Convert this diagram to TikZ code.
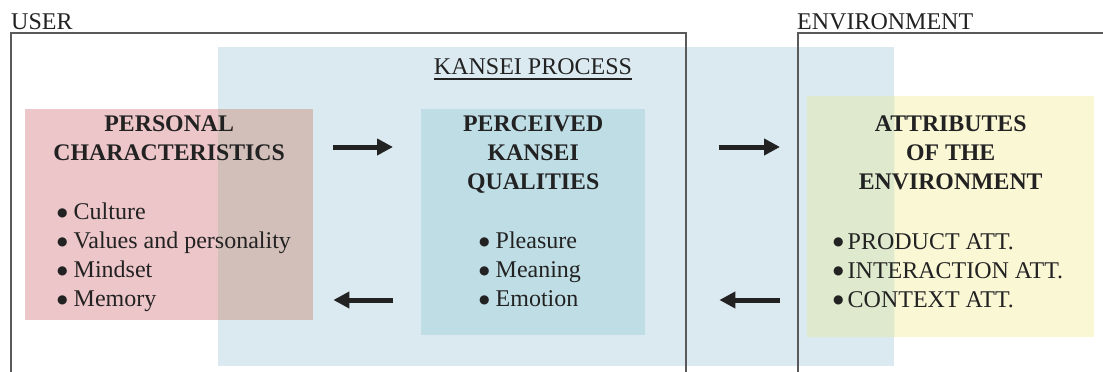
\documentclass[tikz,border=0pt]{standalone}
\usepackage{fontspec}
\setmainfont{Liberation Serif}
\newfontfamily\dotfont{DejaVu Sans}
\usetikzlibrary{arrows.meta,positioning}
\definecolor{kanseibg}{HTML}{DBEAF0}
\definecolor{kanseibox}{HTML}{BFDDE5}
\definecolor{userpink}{HTML}{EDC6C9}
\definecolor{usermix}{HTML}{D3BFBA}
\definecolor{envyellow}{HTML}{FAF7D5}
\definecolor{envmix}{HTML}{DFE9CD}
\definecolor{framegray}{HTML}{5A5A5A}
\definecolor{inkgray}{HTML}{222222}
\newcommand{\bul}{\raisebox{3.6pt}{\dotfont\fontsize{12}{29}\selectfont ●}}
\begin{document}
\begin{tikzpicture}[x=1pt,y=-1pt,
		frame/.style={draw=framegray, line width=1.3pt},
		area/.style={rectangle, inner sep=0pt, anchor=north west},
		heading/.style={font=\fontsize{24}{29}\selectfont, text=inkgray, inner sep=0pt},
		title/.style={font=\fontsize{23.8}{29}\selectfont\bfseries, text=inkgray, align=center, inner sep=0pt, anchor=north},
		items/.style={font=\fontsize{24}{29}\selectfont, text=inkgray, align=left, inner sep=0pt, anchor=north west},
		bigarrow/.style={-{Triangle[length=16pt,width=16pt]}, line width=5pt, inkgray}]
	\useasboundingbox (0,0) rectangle (1103,372);
	\node[area, fill=kanseibg, minimum width=676pt, minimum height=319pt] (kansei) at (218,47) {};
	\node[area, fill=userpink, minimum width=288pt, minimum height=211pt] (pers) at (25,109) {};
	\node[area, fill=envyellow, minimum width=287pt, minimum height=241pt] (attr) at (807,96) {};
	% where the boxes lie over the kansei area
	\begin{scope}
		\clip (kansei.north west) rectangle (kansei.south east);
		\fill[usermix] (pers.north west) rectangle (pers.south east);
		\fill[envmix] (attr.north west) rectangle (attr.south east);
	\end{scope}
	\node[area, fill=kanseibox, minimum width=224pt, minimum height=226pt] (perc) at (421,109) {};
	% frames for user and environment
	\draw[frame] (11,372) |- (686,33) -- (686,372);
	\draw[frame] (798,372) |- (1103,33);
	\node[heading, anchor=base west] (user) at (11,29) {USER};
	\node[heading, anchor=base west] (env) at (797,29) {ENVIRONMENT};
	\node[heading, anchor=base] (process) at (533,74) {KANSEI PROCESS};
	\draw[inkgray, line width=1.2pt] ([yshift=-5pt]process.base west) -- ([yshift=-5pt]process.base east);
	% titles and lists
	\node[title] (perstitle) at ([yshift=-7pt]pers.north) {PERSONAL\\CHARACTERISTICS};
	\node[title] (perctitle) at ([yshift=-7pt]perc.north) {PERCEIVED\\KANSEI\\QUALITIES};
	\node[title] (attrtitle) at ([yshift=-20pt]attr.north) {ATTRIBUTES\\OF THE\\ENVIRONMENT};
	\node[items] (perslist) at (57,203) {\bul\ Culture\\\bul\ Values and personality\\\bul\ Mindset\\\bul\ Memory};
	\node[items] (perclist) at (479,232) {\bul\ Pleasure\\\bul\ Meaning\\\bul\ Emotion};
	\node[items] (attrlist) at (833,233) {\bul\,PRODUCT ATT.\\\bul\,INTERACTION ATT.\\\bul\,CONTEXT ATT.};
	% arrows
	\coordinate (toprow) at (0,147);
	\coordinate (botrow) at (0,300);
	\draw[bigarrow, shorten <=20pt, shorten >=28pt] (pers.east |- toprow) -- (perc.west |- toprow);
	\draw[bigarrow, shorten <=28pt, shorten >=20pt] (perc.west |- botrow) -- (pers.east |- botrow);
	\draw[bigarrow, shorten <=74pt, shorten >=27pt] (perc.east |- toprow) -- (attr.west |- toprow);
	\draw[bigarrow, shorten <=27pt, shorten >=74pt] (attr.west |- botrow) -- (perc.east |- botrow);
\end{tikzpicture}
\end{document}
